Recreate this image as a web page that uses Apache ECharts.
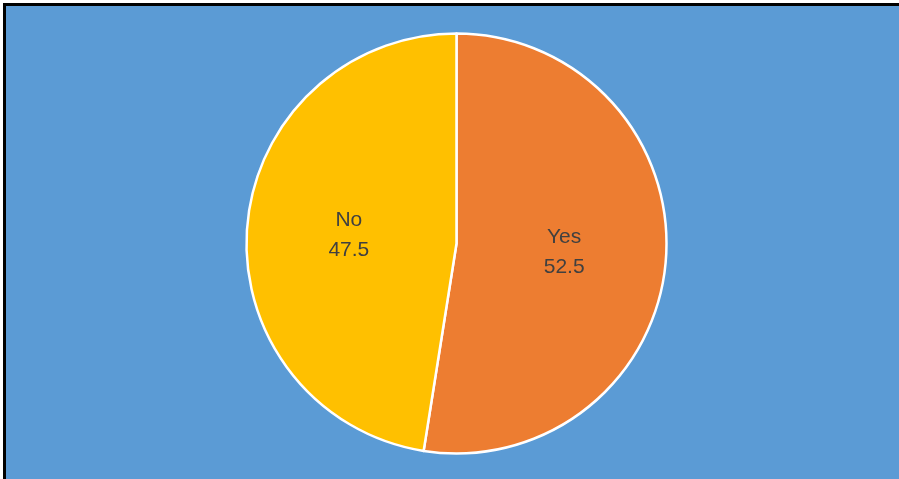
<!DOCTYPE html>
<html>
<head>
<meta charset="utf-8">
<script src="https://cdn.jsdelivr.net/npm/echarts@6/dist/echarts.min.js"></script>
<style>
  html, body { margin: 0; padding: 0; background: #ffffff; width: 899px; height: 479px; overflow: hidden; }
  #frame { position: absolute; left: 3px; top: 3px; right: 0; bottom: 0;
           border-top: 3px solid #000; border-left: 3px solid #000; background: #5B9BD5; }
  #chart { position: absolute; left: 0; top: 0; width: 899px; height: 479px; }
</style>
</head>
<body>
<div id="frame"></div>
<div id="chart"></div>
<script>
// Share of responses
const categories = ['Yes', 'No'];
const values = [52.5, 47.5];
const colors = ['#ED7D31', '#FFC000'];

const chart = echarts.init(document.getElementById('chart'), null, { renderer: 'canvas' });
chart.setOption({
  animation: false,
  series: [{
    type: 'pie',
    center: [456.5, 243.5],
    radius: 210,
    startAngle: 90,
    clockwise: true,
    data: categories.map((c, i) => ({ name: c, value: values[i], itemStyle: { color: colors[i] } })),
    itemStyle: { borderColor: '#ffffff', borderWidth: 2.5 },
    label: {
      show: true,
      position: 'inner',
      formatter: p => p.name + '\n' + p.value,
      color: '#404040',
      fontFamily: 'Liberation Sans, Arial, sans-serif',
      fontSize: 21,
      lineHeight: 30,
      padding: [4, 0, 0, 0]
    },
    labelLine: { show: false },
    emphasis: { disabled: true }
  }]
});
</script>
</body>
</html>
